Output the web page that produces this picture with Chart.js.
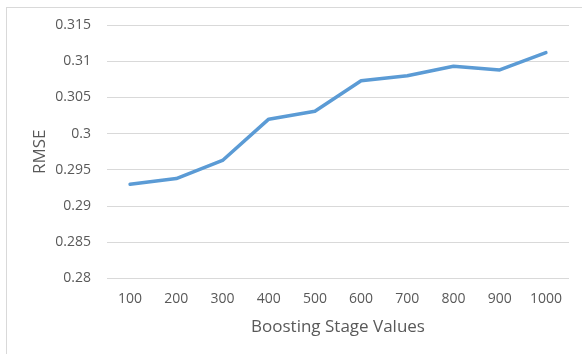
<!DOCTYPE html>
<html>
<head>
<meta charset="utf-8">
<script src="https://cdn.jsdelivr.net/npm/chart.js@4.4.1/dist/chart.umd.min.js"></script>
<style>
  html, body { margin: 0; padding: 0; background: #ffffff; }
  #wrap { width: 582px; height: 354px; position: relative; }
</style>
</head>
<body>
<div id="wrap"><canvas id="chart" width="582" height="354"></canvas></div>
<script>
// Boosting stage count vs. RMSE
const stages = ['100', '200', '300', '400', '500', '600', '700', '800', '900', '1000'];
const rmse = [0.2930, 0.2938, 0.2963, 0.3020, 0.3031, 0.3073, 0.3080, 0.3093, 0.3088, 0.3112];
const yTicks = [0.28, 0.285, 0.29, 0.295, 0.3, 0.305, 0.31, 0.315];

const axisGrey = '#595959';
const fontFamily = '"Open Sans", "Liberation Sans", sans-serif';

// Thin frame around the chart, like an office chart box
const framePlugin = {
  id: 'frame',
  beforeDraw(chart) {
    const ctx = chart.ctx;
    ctx.save();
    ctx.strokeStyle = '#d9d9d9';
    ctx.lineWidth = 1;
    ctx.strokeRect(6.5, 7.5, 620, 400);
    ctx.restore();
  }
};

new Chart(document.getElementById('chart'), {
  type: 'line',
  data: {
    labels: stages,
    datasets: [{
      data: rmse,
      borderColor: '#5b9bd5',
      borderWidth: 3.5,
      borderCapStyle: 'round',
      borderJoinStyle: 'round',
      pointRadius: 0,
      tension: 0,
      fill: false
    }]
  },
  options: {
    responsive: false,
    animation: false,
    devicePixelRatio: 1,
    layout: { padding: { top: 25, right: 13, bottom: 0, left: 0 } },
    plugins: { legend: { display: false }, tooltip: { enabled: false } },
    scales: {
      x: {
        offset: true,
        grid: { display: false, drawTicks: false },
        border: { display: false },
        ticks: {
          color: axisGrey,
          font: { family: fontFamily, size: 14 },
          padding: 12,
          maxRotation: 0
        },
        title: {
          display: true,
          text: 'Boosting Stage Values',
          color: axisGrey,
          font: { family: fontFamily, size: 17 },
          padding: { top: 0, bottom: 17 }
        },
        afterFit(scale) { scale.height = 354 - 278.5; }
      },
      y: {
        min: 0.28,
        max: 0.315,
        grid: { color: '#d9d9d9', lineWidth: 1, drawTicks: false },
        border: { display: false },
        afterBuildTicks(scale) { scale.ticks = yTicks.map(v => ({ value: v })); },
        ticks: {
          color: axisGrey,
          font: { family: fontFamily, size: 14 },
          padding: 16,
          callback: v => String(Number(v.toFixed(3)))
        },
        title: {
          display: true,
          text: 'RMSE',
          color: axisGrey,
          font: { family: fontFamily, size: 17 },
          padding: { top: 30, bottom: 0 }
        },
        afterFit(scale) { scale.width = 107; }
      }
    }
  },
  plugins: [framePlugin]
});
</script>
</body>
</html>
